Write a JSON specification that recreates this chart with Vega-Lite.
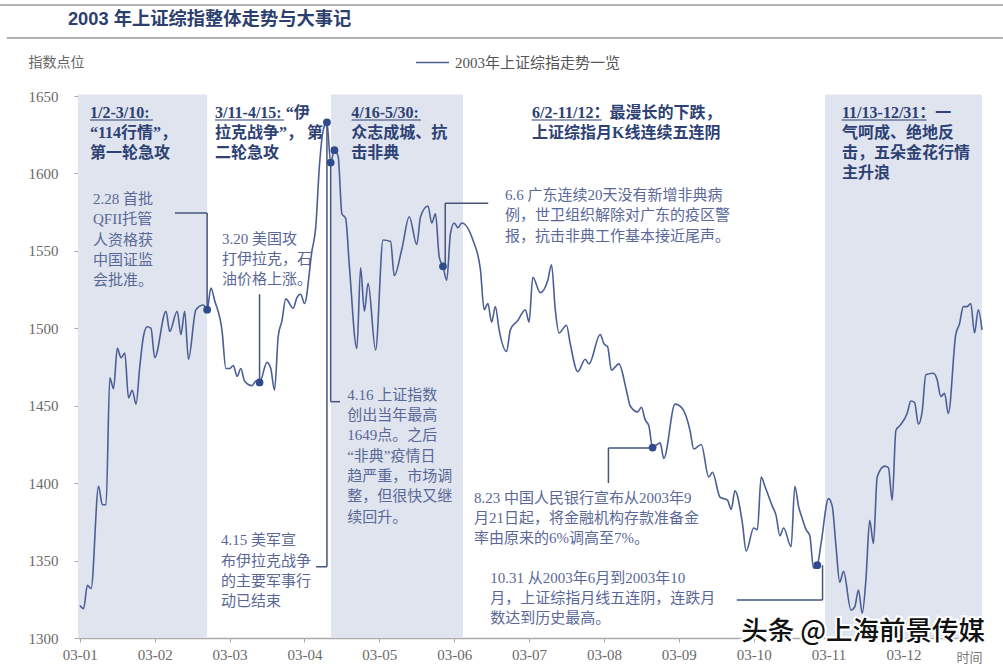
{
  "$schema": "https://vega.github.io/schema/vega-lite/v6.json",
  "width": 904,
  "height": 542,
  "autosize": {"type": "none"},
  "padding": {"left": 78, "top": 96, "right": 21, "bottom": 28},
  "background": "white",
  "config": {"view": {"stroke": null}},
  "datasets": {
    "index": [
      {"d": 0, "v": 1321}, {"d": 1, "v": 1319}, {"d": 2, "v": 1334}, {"d": 3, "v": 1332},
      {"d": 5, "v": 1398}, {"d": 6, "v": 1386}, {"d": 7, "v": 1386}, {"d": 8, "v": 1468},
      {"d": 9, "v": 1461}, {"d": 10, "v": 1487}, {"d": 11, "v": 1481}, {"d": 12, "v": 1484},
      {"d": 13, "v": 1455}, {"d": 14, "v": 1460}, {"d": 15, "v": 1451}, {"d": 16, "v": 1475},
      {"d": 17, "v": 1495}, {"d": 18, "v": 1501}, {"d": 19, "v": 1500}, {"d": 20, "v": 1481},
      {"d": 23, "v": 1511}, {"d": 24, "v": 1498}, {"d": 26, "v": 1511}, {"d": 27, "v": 1496},
      {"d": 28, "v": 1511}, {"d": 29, "v": 1480}, {"d": 31, "v": 1512}, {"d": 33, "v": 1515},
      {"d": 34, "v": 1512, "e": 1}, {"d": 35, "v": 1526}, {"d": 36, "v": 1518}, {"d": 38, "v": 1498},
      {"d": 39, "v": 1474}, {"d": 40, "v": 1474}, {"d": 41, "v": 1476}, {"d": 42, "v": 1469},
      {"d": 43, "v": 1474}, {"d": 44, "v": 1466}, {"d": 46, "v": 1463}, {"d": 47, "v": 1466},
      {"d": 48, "v": 1465, "e": 1}, {"d": 50, "v": 1478}, {"d": 51, "v": 1474}, {"d": 52, "v": 1460},
      {"d": 53, "v": 1495}, {"d": 54, "v": 1505}, {"d": 55, "v": 1519}, {"d": 57, "v": 1513},
      {"d": 58, "v": 1520}, {"d": 59, "v": 1522}, {"d": 60, "v": 1516}, {"d": 62, "v": 1550},
      {"d": 63, "v": 1565}, {"d": 64, "v": 1605}, {"d": 65, "v": 1628}, {"d": 66, "v": 1633, "e": 1},
      {"d": 67, "v": 1607, "e": 1}, {"d": 68, "v": 1615, "e": 1}, {"d": 69, "v": 1611}, {"d": 70, "v": 1574},
      {"d": 71, "v": 1571}, {"d": 72, "v": 1540}, {"d": 74, "v": 1487}, {"d": 75, "v": 1539},
      {"d": 76, "v": 1511}, {"d": 77, "v": 1529}, {"d": 79, "v": 1486}, {"d": 81, "v": 1557},
      {"d": 83, "v": 1556}, {"d": 84, "v": 1534}, {"d": 86, "v": 1551}, {"d": 88, "v": 1572},
      {"d": 90, "v": 1554}, {"d": 91, "v": 1572}, {"d": 93, "v": 1579}, {"d": 94, "v": 1568},
      {"d": 95, "v": 1574}, {"d": 96, "v": 1546}, {"d": 97, "v": 1540, "e": 1}, {"d": 98, "v": 1531},
      {"d": 99, "v": 1561}, {"d": 100, "v": 1568}, {"d": 101, "v": 1565}, {"d": 102, "v": 1568},
      {"d": 105, "v": 1557}, {"d": 107, "v": 1538}, {"d": 108, "v": 1512}, {"d": 109, "v": 1516},
      {"d": 110, "v": 1504}, {"d": 111, "v": 1514}, {"d": 112, "v": 1499}, {"d": 114, "v": 1485},
      {"d": 115, "v": 1499}, {"d": 117, "v": 1505}, {"d": 119, "v": 1512}, {"d": 120, "v": 1504},
      {"d": 121, "v": 1533}, {"d": 123, "v": 1523}, {"d": 125, "v": 1531}, {"d": 126, "v": 1541},
      {"d": 127, "v": 1512}, {"d": 128, "v": 1497}, {"d": 130, "v": 1502}, {"d": 131, "v": 1490},
      {"d": 133, "v": 1472}, {"d": 135, "v": 1480}, {"d": 136, "v": 1477}, {"d": 139, "v": 1496},
      {"d": 140, "v": 1490}, {"d": 141, "v": 1488}, {"d": 142, "v": 1473}, {"d": 144, "v": 1477},
      {"d": 146, "v": 1460}, {"d": 147, "v": 1450}, {"d": 149, "v": 1446}, {"d": 150, "v": 1449},
      {"d": 151, "v": 1441}, {"d": 152, "v": 1437}, {"d": 153, "v": 1423, "e": 1}, {"d": 155, "v": 1426},
      {"d": 156, "v": 1416}, {"d": 159, "v": 1451}, {"d": 161, "v": 1448}, {"d": 163, "v": 1434},
      {"d": 164, "v": 1422}, {"d": 166, "v": 1425}, {"d": 168, "v": 1404}, {"d": 169, "v": 1407},
      {"d": 171, "v": 1391}, {"d": 173, "v": 1389}, {"d": 174, "v": 1383}, {"d": 175, "v": 1395},
      {"d": 177, "v": 1374}, {"d": 178, "v": 1356}, {"d": 180, "v": 1371}, {"d": 181, "v": 1370},
      {"d": 182, "v": 1404}, {"d": 183, "v": 1398}, {"d": 185, "v": 1385}, {"d": 186, "v": 1379},
      {"d": 187, "v": 1366}, {"d": 188, "v": 1371}, {"d": 190, "v": 1359}, {"d": 191, "v": 1398},
      {"d": 192, "v": 1385}, {"d": 193, "v": 1377}, {"d": 194, "v": 1370}, {"d": 195, "v": 1366},
      {"d": 196, "v": 1345}, {"d": 197, "v": 1347, "e": 1}, {"d": 198, "v": 1361}, {"d": 200, "v": 1390},
      {"d": 201, "v": 1385}, {"d": 202, "v": 1359}, {"d": 203, "v": 1336}, {"d": 204, "v": 1343},
      {"d": 206, "v": 1318}, {"d": 207, "v": 1320}, {"d": 208, "v": 1331}, {"d": 209, "v": 1316},
      {"d": 210, "v": 1338}, {"d": 211, "v": 1376}, {"d": 212, "v": 1361}, {"d": 213, "v": 1404},
      {"d": 215, "v": 1411}, {"d": 216, "v": 1410}, {"d": 217, "v": 1389}, {"d": 218, "v": 1434},
      {"d": 219, "v": 1437}, {"d": 221, "v": 1445}, {"d": 222, "v": 1453}, {"d": 223, "v": 1452},
      {"d": 224, "v": 1438}, {"d": 225, "v": 1446}, {"d": 226, "v": 1470}, {"d": 228, "v": 1471},
      {"d": 229, "v": 1467}, {"d": 230, "v": 1456}, {"d": 231, "v": 1458}, {"d": 232, "v": 1445},
      {"d": 234, "v": 1496}, {"d": 235, "v": 1503}, {"d": 236, "v": 1514}, {"d": 237, "v": 1514},
      {"d": 238, "v": 1516}, {"d": 239, "v": 1497}, {"d": 240, "v": 1512}, {"d": 241, "v": 1499}
    ],
    "phases": [
      {"s": -0.5, "t": 34.0},
      {"s": 67.1, "t": 102.35},
      {"s": 199.1, "t": 241}
    ],
    "heads": [
      {"x": 2.7, "y": 1644.5, "t": "1/2-3/10:\n “114行情”，\n第一轮急攻"},
      {"x": 36.1, "y": 1644.5, "t": "3/11-4/15:    “伊\n拉克战争”， 第\n二轮急攻"},
      {"x": 72.5, "y": 1644.5, "t": "4/16-5/30:\n众志成城、抗\n击非典"},
      {"x": 120.8, "y": 1644.5, "t": "6/2-11/12：最漫长的下跌，\n上证综指月K线连续五连阴"},
      {"x": 203.6, "y": 1644.5, "t": "11/13-12/31：一\n气呵成、绝地反\n击，五朵金花行情\n主升浪"}
    ],
    "unders": [
      {"x": 2.7, "x2": 19.5, "y": 1634.5},
      {"x": 36.1, "x2": 54.5, "y": 1634.5},
      {"x": 72.6, "x2": 91.1, "y": 1634.5},
      {"x": 120.7, "x2": 139.4, "y": 1634.5},
      {"x": 203.5, "x2": 226.2, "y": 1634.5}
    ],
    "notes": [
      {"x": 3.5, "y": 1588, "t": "2.28 首批\nQFII托管\n人资格获\n中国证监\n会批准。"},
      {"x": 38.0, "y": 1562.5, "t": "3.20 美国攻\n打伊拉克，石\n油价格上涨。"},
      {"x": 37.7, "y": 1367.5, "t": "4.15 美军宣\n布伊拉克战争\n的主要军事行\n动已结束"},
      {"x": 71.4, "y": 1461.5, "t": "4.16 上证指数\n创出当年最高\n1649点。之后\n“非典”疫情日\n趋严重，市场调\n整，但很快又继\n续回升。"},
      {"x": 113.6, "y": 1590.5, "t": "6.6 广东连续20天没有新增非典病\n例，世卫组织解除对广东的疫区警\n报，抗击非典工作基本接近尾声。"},
      {"x": 105.3, "y": 1395, "t": "8.23 中国人民银行宣布从2003年9\n月21日起，将金融机构存款准备金\n率由原来的6%调高至7%。"},
      {"x": 109.6, "y": 1343.5, "t": "10.31 从2003年6月到2003年10\n月，上证综指月线五连阴，连跌月\n数达到历史最高。"}
    ],
    "leaders": [
      {"x": 25.4, "x2": 34, "y": 1574.4, "y2": 1574.4},
      {"x": 34, "x2": 34, "y": 1574.4, "y2": 1512},
      {"x": 48, "x2": 48, "y": 1522, "y2": 1465},
      {"x": 63.1, "x2": 66, "y": 1346, "y2": 1346},
      {"x": 66, "x2": 66, "y": 1346, "y2": 1633},
      {"x": 67, "x2": 67, "y": 1607, "y2": 1452.6},
      {"x": 67, "x2": 69.5, "y": 1452.6, "y2": 1452.6},
      {"x": 97.6, "x2": 97.6, "y": 1540, "y2": 1580.7},
      {"x": 97.6, "x2": 109.1, "y": 1580.7, "y2": 1580.7},
      {"x": 141.2, "x2": 153, "y": 1422.7, "y2": 1422.7},
      {"x": 141.2, "x2": 141.2, "y": 1422.7, "y2": 1400},
      {"x": 175.5, "x2": 198.4, "y": 1324.5, "y2": 1324.5},
      {"x": 198.4, "x2": 198.4, "y": 1324.5, "y2": 1347}
    ]
  },
  "layer": [
    {
      "data": {"name": "phases"},
      "mark": {"type": "rect", "color": "#dfe4ee"},
      "encoding": {
        "x": {
          "field": "s", "type": "quantitative",
          "scale": {"domain": [-0.5, 241], "nice": false, "zero": false},
          "axis": {
            "values": [0, 20, 40, 60, 80, 100, 120, 140, 160, 180, 200, 220],
            "labelExpr": "'03-' + (datum.value / 20 + 1 < 10 ? '0' : '') + (datum.value / 20 + 1)",
            "title": "时间",
            "titleX": 891, "titleY": 19,
            "titleAlign": "center", "titleBaseline": "middle",
            "titleFont": "Noto Sans CJK SC", "titleFontSize": 13, "titleFontWeight": "normal", "titleColor": "#777",
            "labelFont": "Liberation Serif", "labelFontSize": 15, "labelColor": "#6a6a6a", "labelPadding": 5,
            "tickSize": 4, "tickColor": "#aaa", "domainColor": "#aaa", "domainWidth": 1.5,
            "grid": false, "labelFlush": false, "labelOverlap": false
          }
        },
        "x2": {"field": "t"},
        "y": {
          "datum": 1300, "type": "quantitative",
          "scale": {"domain": [1300, 1650], "nice": false, "zero": false},
          "axis": {
            "values": [1300, 1350, 1400, 1450, 1500, 1550, 1600, 1650],
            "format": "d",
            "title": "指数点位",
            "titleAngle": 0, "titleX": -50, "titleY": -34,
            "titleAlign": "left", "titleBaseline": "middle",
            "titleFont": "Noto Sans CJK SC", "titleFontSize": 14, "titleFontWeight": "normal", "titleColor": "#666",
            "labelFont": "Liberation Serif", "labelFontSize": 15, "labelColor": "#6a6a6a", "labelPadding": 16,
            "tickSize": 4, "tickColor": "#aaa", "domainColor": "#bbb",
            "grid": false, "labelFlush": false
          }
        },
        "y2": {"datum": 1651}
      }
    },
    {
      "data": {"name": "index"},
      "mark": {"type": "line", "interpolate": "monotone", "strokeWidth": 1.6},
      "encoding": {
        "x": {"field": "d", "type": "quantitative"},
        "y": {"field": "v", "type": "quantitative"},
        "color": {
          "datum": "2003年上证综指走势一览",
          "scale": {"range": ["#4b5f96"]},
          "legend": {
            "orient": "none", "legendX": 337, "legendY": -51, "title": null,
            "symbolType": "stroke", "symbolSize": 1089, "symbolStrokeWidth": 1.5,
            "labelFont": "Liberation Serif, Noto Sans CJK SC", "labelFontSize": 15, "labelColor": "#555",
            "labelOffset": 5, "labelLimit": 400, "padding": 0
          }
        }
      }
    },
    {
      "data": {"name": "leaders"},
      "mark": {"type": "rule", "color": "#46547a", "strokeWidth": 1.5},
      "encoding": {
        "x": {"field": "x", "type": "quantitative"},
        "x2": {"field": "x2"},
        "y": {"field": "y", "type": "quantitative"},
        "y2": {"field": "y2"}
      }
    },
    {
      "data": {"name": "index"},
      "transform": [{"filter": "datum.e == 1"}],
      "mark": {"type": "point", "filled": true, "size": 60, "color": "#2f4b8c", "opacity": 1},
      "encoding": {
        "x": {"field": "d", "type": "quantitative"},
        "y": {"field": "v", "type": "quantitative"}
      }
    },
    {
      "data": {"name": "unders"},
      "mark": {"type": "rule", "color": "#2d4174", "strokeWidth": 1},
      "encoding": {
        "x": {"field": "x", "type": "quantitative"},
        "x2": {"field": "x2"},
        "y": {"field": "y", "type": "quantitative"}
      }
    },
    {
      "data": {"name": "heads"},
      "mark": {
        "type": "text", "align": "left", "baseline": "top", "lineBreak": "\n", "lineHeight": 20,
        "font": "Liberation Serif, Noto Sans CJK SC", "fontSize": 16, "fontWeight": "bold", "color": "#2d4174"
      },
      "encoding": {
        "x": {"field": "x", "type": "quantitative"},
        "y": {"field": "y", "type": "quantitative"},
        "text": {"field": "t"}
      }
    },
    {
      "data": {"name": "notes"},
      "mark": {
        "type": "text", "align": "left", "baseline": "top", "lineBreak": "\n", "lineHeight": 20.3,
        "font": "Liberation Serif, Noto Sans CJK SC", "fontSize": 15, "fontWeight": "normal", "color": "#5a6898"
      },
      "encoding": {
        "x": {"field": "x", "type": "quantitative"},
        "y": {"field": "y", "type": "quantitative"},
        "text": {"field": "t"}
      }
    },
    {
      "data": {"values": [{}]},
      "mark": {"type": "rule", "color": "#9a9a9a", "strokeWidth": 1.5},
      "encoding": {"x": {"datum": -21.3}, "x2": {"datum": 246.6}, "y": {"datum": 1708.8}}
    },
    {
      "data": {"values": [{}]},
      "mark": {"type": "rule", "color": "#9a9a9a", "strokeWidth": 1.5},
      "encoding": {"x": {"datum": -19.5}, "x2": {"datum": 246.6}, "y": {"datum": 1687.5}}
    },
    {
      "data": {"values": [{}]},
      "mark": {"type": "text", "align": "left", "baseline": "middle", "font": "Liberation Sans, Noto Sans CJK SC", "fontSize": 18.3, "fontWeight": "bold", "color": "#2d3f6e"},
      "encoding": {"x": {"datum": -3.2}, "y": {"datum": 1699.1}, "text": {"value": "2003 年上证综指整体走势与大事记"}}
    },
    {
      "data": {"values": [{}]},
      "mark": {"type": "text", "align": "right", "baseline": "middle", "font": "Noto Sans CJK SC", "fontSize": 26.5, "fontWeight": 500, "stroke": "white", "strokeWidth": 4, "fill": "white"},
      "encoding": {"x": {"datum": 241.8}, "y": {"datum": 1304}, "text": {"value": "头条 @上海前景传媒"}}
    },
    {
      "data": {"values": [{}]},
      "mark": {"type": "text", "align": "right", "baseline": "middle", "font": "Noto Sans CJK SC", "fontSize": 26.5, "fontWeight": 500, "color": "#111"},
      "encoding": {"x": {"datum": 241.8}, "y": {"datum": 1304}, "text": {"value": "头条 @上海前景传媒"}}
    }
  ]
}
